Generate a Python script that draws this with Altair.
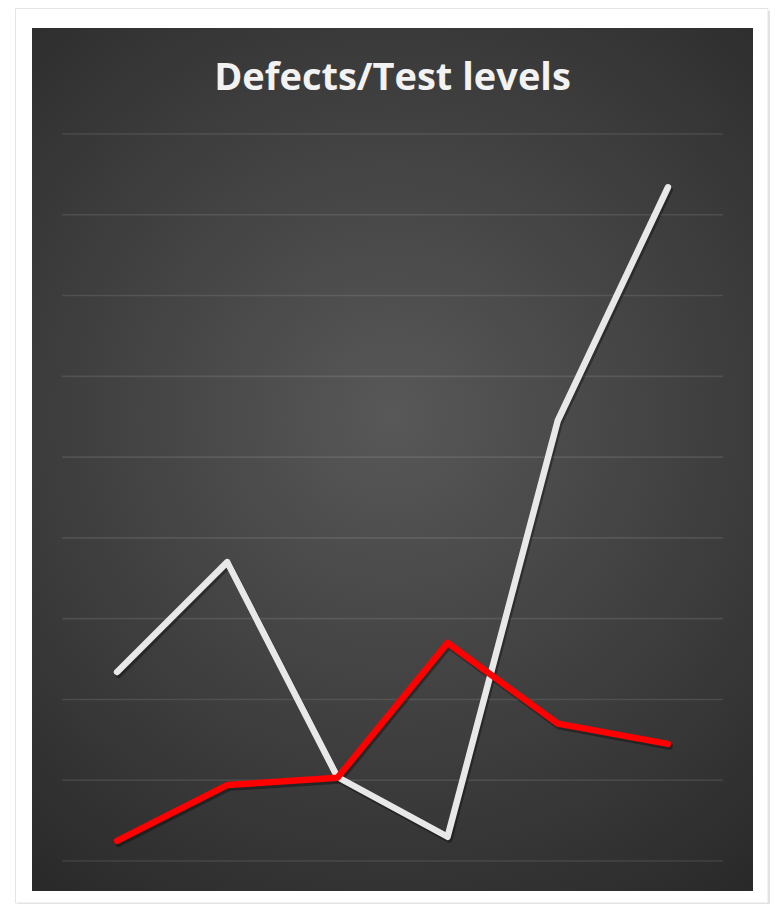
import altair as alt
import pandas as pd

# ---- data ----
levels = ["Level 1", "Level 2", "Level 3", "Level 4", "Level 5", "Level 6"]
defects = [23.4, 37.0, 10.4, 3.0, 54.5, 83.4]        # white line
test_levels = [2.5, 9.4, 10.3, 27.0, 17.0, 14.5]     # red line
grid_values = [0, 10, 20, 30, 40, 50, 60, 70, 80, 90]
title_text = "Defects/Test levels"
series_names = ["Defects", "Test levels"]
series_colors = ["#e8e8e8", "#ff0000"]

W, H = 661, 727

df = pd.DataFrame({
    "level": levels * 2,
    "value": defects + test_levels,
    "series": [series_names[0]] * len(levels) + [series_names[1]] * len(levels),
})
grid_df = pd.DataFrame({"g": grid_values})
title_df = pd.DataFrame({"t": [title_text]})
one = pd.DataFrame({"k": [0]})

xenc = alt.X("level:O", sort=levels, scale=alt.Scale(type="point", padding=0.5), axis=None)
yscale = alt.Scale(domain=[0, 90], nice=False, zero=True)
yenc = alt.Y("value:Q", scale=yscale, axis=None)

# outer white frame with light border
frame_shadow = alt.Chart(one).mark_rect(fill="#cfcfcf", opacity=0.6).encode(
    x=alt.value(-44), x2=alt.value(708), y=alt.value(-123), y2=alt.value(772)
)
frame = alt.Chart(one).mark_rect(fill="#ffffff", stroke="#e4e4e4", strokeWidth=1).encode(
    x=alt.value(-46.5), x2=alt.value(706), y=alt.value(-125.5), y2=alt.value(769)
)

# dark panel with radial gradient
panel = alt.Chart(one).mark_rect(
    fill=alt.RadialGradient(
        gradient="radial",
        stops=[
            alt.GradientStop(offset=0, color="#585858"),
            alt.GradientStop(offset=1, color="#272727"),
        ],
        x1=0.5, y1=0.45, x2=0.5, y2=0.45, r1=0, r2=0.72,
    )
).encode(x=alt.value(-30), x2=alt.value(691), y=alt.value(-106), y2=alt.value(757))

grid = alt.Chart(grid_df).mark_rule(color="#ffffff", opacity=0.1, strokeWidth=1.6).encode(
    y=alt.Y("g:Q", scale=yscale, axis=None)
)

shadow = alt.Chart(df).mark_line(
    color="#000000", opacity=0.35, strokeWidth=7, strokeCap="round", strokeJoin="round",
    xOffset=1.5, yOffset=2.5
).encode(x=xenc, y=yenc, detail="series:N")

white_line = alt.Chart(df).transform_filter(
    alt.datum.series == series_names[0]
).mark_line(color=series_colors[0], strokeWidth=6.5, strokeCap="round", strokeJoin="round").encode(
    x=xenc, y=yenc
)
red_line = alt.Chart(df).transform_filter(
    alt.datum.series == series_names[1]
).mark_line(color=series_colors[1], strokeWidth=6.5, strokeCap="round", strokeJoin="round").encode(
    x=xenc, y=yenc
)

title = alt.Chart(title_df).mark_text(
    font="Open Sans", fontSize=38, fontWeight="bold", color="#f2f2f2",
    align="center", baseline="alphabetic"
).encode(text="t:N", x=alt.value(W / 2), y=alt.value(-44))

chart = alt.layer(
    frame_shadow, frame, panel, grid, shadow, white_line, red_line, title
).properties(
    width=W, height=H,
    autosize=alt.AutoSizeParams(type="none"),
    padding={"left": 54, "top": 126, "right": 47, "bottom": 43},
).configure(background="#ffffff").configure_view(stroke=None)

chart.save("out.html", embed_options={"renderer": "svg", "actions": False})
